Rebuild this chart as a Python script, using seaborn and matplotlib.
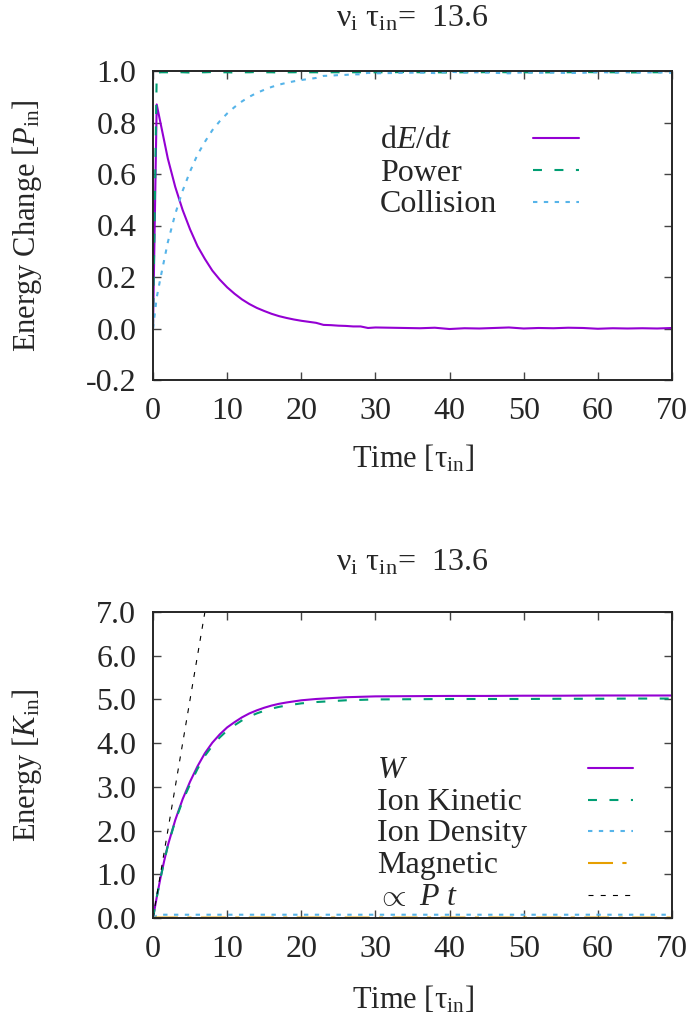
import numpy as np
import pandas as pd
import matplotlib
matplotlib.use("Agg")
import matplotlib.pyplot as plt
import seaborn as sns

# ---- data ----
# upper panel: energy change, time in tau_in
t_top = [0, 0.5, 1, 2, 3, 4, 5, 6, 7, 8, 9, 10, 11, 12, 13, 14, 15, 16, 17, 18,
         19, 20, 21, 22, 23, 24, 25, 26, 27, 28, 29, 30,
         32, 34, 36, 38, 40, 42, 44, 46, 48, 50, 52, 54, 56, 58, 60, 62, 64, 66, 68, 70]
de_dt = [0.0, 0.87, 0.80, 0.66, 0.55, 0.46, 0.385, 0.32, 0.27, 0.225, 0.19, 0.16,
         0.135, 0.113, 0.095, 0.080, 0.068, 0.057, 0.048, 0.041, 0.035, 0.030,
         0.026, 0.022, 0.014, 0.013, 0.011, 0.010, 0.008, 0.008, 0.002, 0.004,
         0.003, 0.002, 0.001, 0.003, -0.002, 0.001, 0.000, 0.002, 0.004, 0.000,
         0.002, 0.001, 0.003, 0.002, -0.001, 0.001, 0.000, 0.001, 0.000, 0.002]
power = [0.0, 0.99, 0.995, 0.995, 0.996, 0.995, 0.994, 0.995, 0.995, 0.996, 0.995,
         0.995, 0.994, 0.995, 0.995, 0.996, 0.995, 0.995, 0.994, 0.995, 0.995,
         0.996, 0.995, 0.995, 0.994, 0.995, 0.995, 0.996, 0.995, 0.995, 0.994,
         0.995, 0.995, 0.996, 0.995, 0.995, 0.994, 0.995, 0.995, 0.996, 0.995,
         0.995, 0.994, 0.995, 0.995, 0.996, 0.995, 0.995, 0.994, 0.995, 0.995, 0.995]
collision = [0.0, 0.12, 0.195, 0.335, 0.445, 0.535, 0.61, 0.675, 0.725, 0.77, 0.805,
             0.835, 0.86, 0.882, 0.90, 0.915, 0.927, 0.938, 0.947, 0.954, 0.960,
             0.965, 0.969, 0.973, 0.981, 0.982, 0.984, 0.985, 0.987, 0.987, 0.993,
             0.991, 0.992, 0.993, 0.994, 0.992, 0.997, 0.994, 0.995, 0.993, 0.991,
             0.995, 0.993, 0.994, 0.992, 0.993, 0.996, 0.994, 0.995, 0.994, 0.995, 0.993]

# lower panel: energy content
t_bot = [0, 0.5, 1, 1.5, 2, 3, 4, 5, 6, 7, 8, 9, 10, 11, 12, 13, 14, 15, 16, 17, 18,
         20, 22, 24, 26, 28, 30, 35, 40, 45, 50, 55, 60, 65, 70]
w_total = [0.0, 0.47, 0.91, 1.30, 1.66, 2.24, 2.72, 3.12, 3.47, 3.77, 4.01, 4.20,
           4.36, 4.48, 4.59, 4.68, 4.75, 4.81, 4.86, 4.90, 4.93, 4.98, 5.01, 5.03,
           5.05, 5.06, 5.07, 5.075, 5.08, 5.08, 5.085, 5.085, 5.09, 5.09, 5.09]
ion_kinetic = [0.0, 0.47, 0.90, 1.29, 1.65, 2.22, 2.68, 3.06, 3.41, 3.71, 3.94, 4.13,
               4.29, 4.41, 4.52, 4.61, 4.68, 4.74, 4.79, 4.83, 4.86, 4.91, 4.94, 4.96,
               4.98, 4.99, 5.00, 5.005, 5.01, 5.01, 5.01, 5.015, 5.015, 5.02, 5.02]
ion_density = [0.0, 0.05, 0.07, 0.075, 0.075, 0.075, 0.075, 0.075, 0.075, 0.075, 0.075,
               0.075, 0.075, 0.075, 0.075, 0.075, 0.075, 0.075, 0.075, 0.075, 0.075,
               0.075, 0.075, 0.075, 0.075, 0.075, 0.075, 0.075, 0.075, 0.075, 0.075,
               0.075, 0.075, 0.075, 0.075]
magnetic = [0.0] + [0.01] * 34
pt_time = [0, 7.5]
pt_energy = [0, 7.5]

title = r"$\mathrm{\nu_{i}}$ $\mathrm{\tau_{in}}$=  13.6"

# ---- style ----
sns.set_theme(style="ticks")
plt.rcParams["font.family"] = ["Liberation Serif", "DejaVu Serif"]
plt.rcParams["mathtext.fontset"] = "custom"
plt.rcParams["mathtext.rm"] = "Liberation Serif"
plt.rcParams["mathtext.it"] = "Liberation Serif:italic"
plt.rcParams["axes.unicode_minus"] = False
FS = 23      # ticks, key, title
FS_LAB = 22  # axis labels

PURPLE, GREEN, BLUE, ORANGE = "#9400d3", "#009e73", "#56b4e9", "#e69f00"
SOLID = "-"
DASH = (0, (4.3, 6.0))
DOT = (0, (2.1, 3.1))
DASHDOT = (0, (12, 4.5, 2, 4.5))
FINE = (0, (4.5, 6.5))


def draw(ax, x, y, color, ls, lw=1.5):
    sns.lineplot(x=x, y=y, ax=ax, color=color, linewidth=lw, linestyle=ls,
                 estimator=None, sort=False, legend=False)


def key(ax, entries, text_x, x0, x1, rows):
    # gnuplot style key: text left-justified, sample to the right
    for (label, color, ls, lw), y in zip(entries, rows):
        ax.plot([x0, x1], [y, y], transform=ax.transAxes, color=color,
                linewidth=lw, linestyle=ls, clip_on=False)
        ax.text(text_x, y - 0.034, label, transform=ax.transAxes,
                fontsize=FS, va="baseline", ha="left")


def dress(ax, ylabel, yticks, title_y, xlab_y):
    ax.set_xlim(0, 70)
    ax.set_xticks(range(0, 71, 10))
    ax.set_yticks(yticks)
    ax.set_yticklabels([f"{v:.1f}" for v in yticks])
    ax.set_ylim(yticks[0], yticks[-1])
    ax.tick_params(direction="in", length=6, width=1, color="#444444",
                   top=True, right=True, pad=12, labelsize=FS)
    for s in ax.spines.values():
        s.set_linewidth(1.4)
        s.set_visible(True)
    ax.set_xlabel(r"Time [$\mathrm{\tau_{in}}$]", fontsize=FS_LAB)
    ax.xaxis.set_label_coords(0.5, xlab_y)
    ax.set_ylabel(ylabel, fontsize=FS_LAB)
    ax.yaxis.set_label_coords(-0.21, 0.5)
    ax.text(0.5, title_y, title, transform=ax.transAxes, ha="center",
            va="center", fontsize=FS)


fig = plt.figure(figsize=(6.94, 10.14), dpi=100)
W, H = 694, 1014
ax1 = fig.add_axes([153 / W, 1 - 380 / H, 519 / W, 309 / H])
ax2 = fig.add_axes([153 / W, 1 - 918 / H, 519 / W, 306 / H])

# upper panel
draw(ax1, t_top, de_dt, PURPLE, SOLID)
draw(ax1, t_top, power, GREEN, DASH)
draw(ax1, t_top, collision, BLUE, DOT)
dress(ax1, r"Energy Change [$P_\mathrm{in}$]", [-0.2, 0.0, 0.2, 0.4, 0.6, 0.8, 1.0],
      1.17, -0.205)
key(ax1, [(r"d$E$/d$t$", PURPLE, SOLID, 1.5),
          ("Power", GREEN, DASH, 1.5),
          ("Collision", BLUE, DOT, 1.5)],
    0.4374, 0.7322, 0.8208, [0.7832, 0.6796, 0.5761])

# lower panel
draw(ax2, t_bot, w_total, PURPLE, SOLID)
draw(ax2, t_bot, ion_kinetic, GREEN, DASH)
draw(ax2, t_bot, ion_density, BLUE, DOT)
draw(ax2, t_bot, magnetic, ORANGE, DASHDOT)
draw(ax2, pt_time, pt_energy, "black", FINE, lw=0.8)
dress(ax2, r"Energy [$K_\mathrm{in}$]", [0, 1, 2, 3, 4, 5, 6, 7], 1.16, -0.215)
key(ax2, [(r"$W$", PURPLE, SOLID, 1.5),
          ("Ion Kinetic", GREEN, DASH, 1.5),
          ("Ion Density", BLUE, DOT, 1.5),
          ("Magnetic", ORANGE, DASHDOT, 1.5),
          (r"$\propto$ $P$ $t$", "black", FINE, 0.8)],
    0.4316, 0.8382, 0.9249, [0.4902, 0.3856, 0.2843, 0.1797, 0.0752])

fig.savefig("out.png", dpi=100)
